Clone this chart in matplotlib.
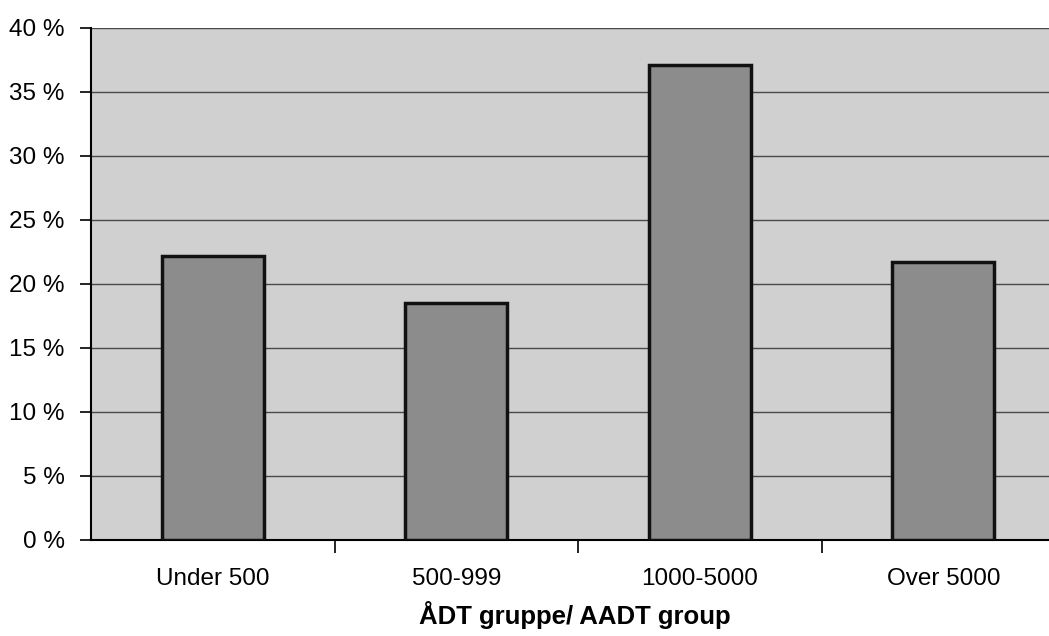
import matplotlib
matplotlib.use("Agg")
import matplotlib.pyplot as plt
import numpy as np

# data
groups = ["Under 500", "500-999", "1000-5000", "Over 5000"]
shares = [22.2, 18.5, 37.1, 21.7]
yticks = [0, 5, 10, 15, 20, 25, 30, 35, 40]

plt.rcParams['font.family'] = ['Liberation Sans', 'DejaVu Sans']

fig = plt.figure(figsize=(10.49, 6.36), dpi=100)
ax = fig.add_axes([91/1049, 1 - 540/636, 1 - 91/1049, (540 - 28)/636])
ax.set_facecolor("#d0d0d0")

x = np.arange(len(groups))
ax.bar(x, shares, width=0.42, color="#8c8c8c", edgecolor="#111111",
       linewidth=2.5, zorder=3)

ax.set_ylim(0, 40)
ax.set_xlim(-0.5, 3.434)
ax.set_yticks(yticks)
ax.set_yticklabels(["%d %%" % v for v in yticks], fontsize=17.5)
ax.yaxis.grid(True, color="#4a4a4a", linewidth=1.0, zorder=1)
ax.set_axisbelow(True)

# category labels centred, ticks between categories
ax.set_xticks(x)
ax.set_xticklabels(groups, fontsize=17.5)
ax.tick_params(axis="x", length=0, pad=20)
ax.set_xticks(np.arange(0.5, 3.5, 1.0), minor=True)
ax.tick_params(axis="x", which="minor", length=9, width=1.2, direction="out")
ax.tick_params(axis="y", length=8, width=1.2, direction="out", pad=11)

for s in ["top", "right"]:
    ax.spines[s].set_visible(False)
ax.spines["left"].set_linewidth(1.5)
ax.spines["bottom"].set_linewidth(1.5)

ax.set_xlabel("ÅDT gruppe/ AADT group", fontsize=18.5, fontweight="bold")
ax.xaxis.set_label_coords((575 - 91) / (1049 - 91), -(624 - 540) / 512)
ax.xaxis.label.set_verticalalignment("baseline")

fig.savefig("out.png", dpi=100)
